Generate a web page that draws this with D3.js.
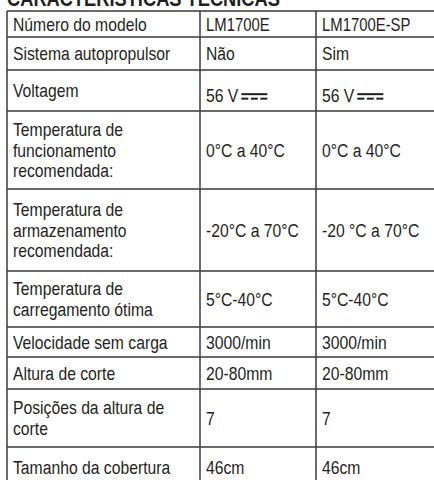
<!DOCTYPE html>
<html><head><meta charset="utf-8">
<script src="https://cdn.jsdelivr.net/npm/d3@7"></script>
<style>
html,body{margin:0;padding:0;background:#fff;}
svg{display:block;}
text{font-family:"Liberation Sans",Arial,sans-serif;fill:#231f20;}
</style></head>
<body>
<script>
const title = "CARACTERÍSTICAS TÉCNICAS";
const headerLabel = "Número do modelo";
const models = ["LM1700E", "LM1700E-SP"];
const specLabels = [
  ["Sistema autopropulsor"],
  ["Voltagem"],
  ["Temperatura de", "funcionamento", "recomendada:"],
  ["Temperatura de", "armazenamento", "recomendada:"],
  ["Temperatura de", "carregamento ótima"],
  ["Velocidade sem carga"],
  ["Altura de corte"],
  ["Posições da altura de", "corte"],
  ["Tamanho da cobertura"]
];
const model1Values = ["Não", "56 V", "0°C a 40°C", "-20°C a 70°C", "5°C-40°C", "3000/min", "20-80mm", "7", "46cm"];
const model2Values = ["Sim", "56 V", "0°C a 40°C", "-20 °C a 70°C", "5°C-40°C", "3000/min", "20-80mm", "7", "46cm"];
const dcRowIndex = 1;

// layout
const W = 434, H = 480;
const colEdges = [7, 200, 316, 445];
const rowHeights = [26, 33, 41, 78, 82, 56, 30, 32, 58, 40];
const tableTop = 11;
const fontSize = 18.5, lineStep = 20.5, padX = 6, sx = 0.85;

const rows = [{label:[headerLabel], v:[models[0], models[1]], header:true}]
  .concat(specLabels.map((l,i)=>({label:l, v:[model1Values[i], model2Values[i]], dc: i===dcRowIndex})));

let acc = tableTop;
const rowTops = rowHeights.map(h => { const t = acc; acc += h; return t; });
rowTops.push(acc);

const svg = d3.select("body").append("svg").attr("width", W).attr("height", H);

function addText(parent, x, y, str, size, weight) {
  return parent.append("text")
    .attr("transform", `translate(${x},${y}) scale(${sx},1)`)
    .style("font-size", size + "px").style("font-weight", weight || "normal")
    .text(str);
}

addText(svg, 7, 6, title, 21.5, "bold");

const g = svg.append("g");

rows.forEach((r, i) => {
  const top = rowTops[i], h = rowHeights[i];
  const cy = top + h/2;
  const n = r.label.length;
  const labelY0 = cy - (n-1)*lineStep/2 + fontSize*0.36;
  r.label.forEach((ln, k) => addText(g, colEdges[0] + padX, labelY0 + k*lineStep, ln, fontSize));
  r.v.forEach((val, c) => {
    const x = colEdges[c+1] + padX;
    const y = cy + fontSize*0.36 + (r.dc ? 5 : 0);
    const tt = addText(g, x, y, val, r.header ? fontSize - 1 : fontSize);
    if (r.dc) {
      const w = tt.node().getComputedTextLength() * sx;
      const x0 = x + w + 3, swd = 26;
      g.append("line").attr("x1", x0).attr("x2", x0 + swd).attr("y1", y - 8).attr("y2", y - 8)
        .attr("stroke", "#231f20").attr("stroke-width", 2);
      const dashW = 7, gap = (swd - 3*dashW)/2;
      [0,1,2].forEach(k => g.append("line")
        .attr("x1", x0 + k*(dashW+gap)).attr("x2", x0 + k*(dashW+gap) + dashW)
        .attr("y1", y - 3.5).attr("y2", y - 3.5)
        .attr("stroke", "#231f20").attr("stroke-width", 2));
    }
  });
});

const stroke = "#3a3a3a", strokeW = 1.5;
rowTops.forEach(y => g.append("line").attr("x1", colEdges[0]).attr("x2", colEdges[3]).attr("y1", y).attr("y2", y)
  .attr("stroke", stroke).attr("stroke-width", strokeW));
colEdges.slice(0,3).forEach(x => g.append("line").attr("x1", x).attr("x2", x).attr("y1", tableTop).attr("y2", rowTops[rowTops.length-1])
  .attr("stroke", stroke).attr("stroke-width", strokeW));
</script>
</body></html>
